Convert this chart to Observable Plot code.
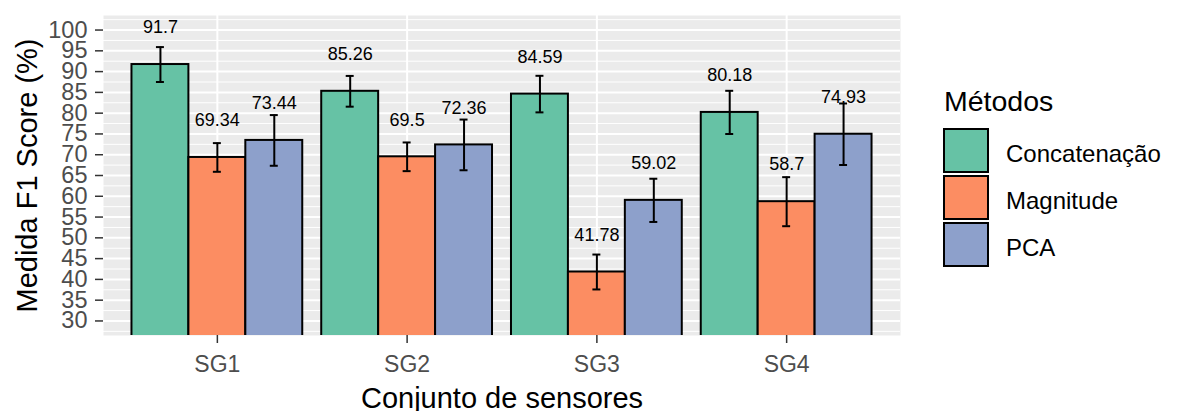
<!DOCTYPE html>
<html>
<head>
<meta charset="utf-8">
<script src="https://cdn.jsdelivr.net/npm/d3@7"></script>
<script src="https://cdn.jsdelivr.net/npm/@observablehq/plot@0.6"></script>
<style>
  html, body { margin: 0; padding: 0; background: white; }
  #wrap { position: relative; width: 1178px; height: 411px; overflow: hidden; font-family: "Liberation Sans", Arial, sans-serif; }
  #legend { position: absolute; left: 943px; top: 87px; }
  #legend .title { font-size: 28.5px; line-height: 29px; height: 29px; margin-left: 1px; color: #000; }
  #legend .keys { margin-top: 11px; }
  #legend .row { display: flex; align-items: center; height: 47px; }
  #legend .key { box-sizing: border-box; width: 46px; height: 45px; border: 2px solid #000; }
  #legend .lab { font-size: 24px; margin-left: 17px; color: #000; position: relative; top: 3px; }
</style>
</head>
<body>
<div id="wrap"><div id="chart"></div><div id="legend"></div></div>
<script>
// ---- data ----
const categories = ["SG1", "SG2", "SG3", "SG4"];
const methods = ["Concatenação", "Magnitude", "PCA"];
const concatenacao = [91.7, 85.26, 84.59, 80.18];
const magnitude = [69.34, 69.5, 41.78, 58.7];
const pca = [73.44, 72.36, 59.02, 74.93];
const concatenacaoErr = [4.2, 3.7, 4.4, 5.2];
const magnitudeErr = [3.45, 3.45, 4.2, 5.9];
const pcaErr = [6.1, 6.1, 5.2, 7.4];
const colors = ["#66C2A5", "#FC8D62", "#8DA0CB"];
const yTicks = [30, 35, 40, 45, 50, 55, 60, 65, 70, 75, 80, 85, 90, 95, 100];
const yMinorTicks = [27.5, 32.5, 37.5, 42.5, 47.5, 52.5, 57.5, 62.5, 67.5, 72.5, 77.5, 82.5, 87.5, 92.5, 97.5, 102.5];
const xTitle = "Conjunto de sensores";
const yTitle = "Medida F1 Score (%)";
const legendTitle = "Métodos";

// ---- build table ----
const seriesValues = [concatenacao, magnitude, pca];
const seriesErr = [concatenacaoErr, magnitudeErr, pcaErr];
const dodge = 0.3; // width of each bar (0.9 / 3)
const rows = [];
categories.forEach((cat, i) => {
  methods.forEach((m, j) => {
    const c = (i + 1) + (j - 1) * dodge;
    rows.push({cat, method: m, value: seriesValues[j][i], err: seriesErr[j][i], xc: c});
  });
});

const chart = Plot.plot({
  width: 1178,
  height: 411,
  marginLeft: 103,
  marginRight: 278,
  marginTop: 15,
  marginBottom: 76,
  style: {fontFamily: "'Liberation Sans', Arial, sans-serif", background: "white", overflow: "visible"},
  x: {type: "linear", domain: [0.4, 4.6], axis: null},
  y: {domain: [26.5, 103.5], axis: null},
  color: {domain: methods, range: colors},
  marks: [
    Plot.frame({fill: "#EBEBEB", stroke: null}),
    Plot.gridY(yMinorTicks, {stroke: "white", strokeOpacity: 1, strokeWidth: 1}),
    Plot.gridY(yTicks, {stroke: "white", strokeOpacity: 1, strokeWidth: 2}),
    Plot.gridX([1, 2, 3, 4], {stroke: "white", strokeOpacity: 1, strokeWidth: 2}),
    Plot.rectY(rows, {
      x1: d => d.xc - dodge / 2,
      x2: d => d.xc + dodge / 2,
      y1: 0,
      y2: "value",
      fill: "method",
      stroke: "black",
      strokeWidth: 2,
      clip: true
    }),
    Plot.ruleX(rows, {x: "xc", y1: d => d.value - d.err, y2: d => d.value + d.err, stroke: "black", strokeWidth: 2}),
    Plot.ruleY(rows, {y: d => d.value + d.err, x1: d => d.xc - 0.021, x2: d => d.xc + 0.021, stroke: "black", strokeWidth: 2}),
    Plot.ruleY(rows, {y: d => d.value - d.err, x1: d => d.xc - 0.021, x2: d => d.xc + 0.021, stroke: "black", strokeWidth: 2}),
    Plot.text(rows, {x: "xc", y: "value", dy: -37, text: d => String(d.value), fontSize: 18, fill: "black", lineAnchor: "middle", textAnchor: "middle"}),
    Plot.axisY({ticks: yTicks, tickSize: 8, tickPadding: 8, fontSize: 23.5, stroke: "#333333", strokeWidth: 1.5, fill: "#4D4D4D", label: null}),
    Plot.axisX({ticks: [1, 2, 3, 4], tickFormat: d => categories[d - 1], tickSize: 8, tickPadding: 12, fontSize: 23, stroke: "#333333", strokeWidth: 1.5, fill: "#4D4D4D", label: null}),
    Plot.text([xTitle], {frameAnchor: "bottom", dy: 63, fontSize: 29, fill: "black", lineAnchor: "middle", textAnchor: "middle"}),
    Plot.text([yTitle], {frameAnchor: "left", dx: -76, rotate: -90, fontSize: 29, fill: "black", lineAnchor: "middle", textAnchor: "middle"})
  ]
});
document.getElementById("chart").appendChild(chart);

// ---- legend ----
const legend = document.getElementById("legend");
const t = document.createElement("div");
t.className = "title";
t.textContent = legendTitle;
legend.appendChild(t);
const keys = document.createElement("div");
keys.className = "keys";
legend.appendChild(keys);
methods.forEach((m, j) => {
  const row = document.createElement("div");
  row.className = "row";
  const key = document.createElement("div");
  key.className = "key";
  key.style.background = colors[j];
  const lab = document.createElement("div");
  lab.className = "lab";
  lab.textContent = m;
  row.appendChild(key);
  row.appendChild(lab);
  keys.appendChild(row);
});
</script>
</body>
</html>
